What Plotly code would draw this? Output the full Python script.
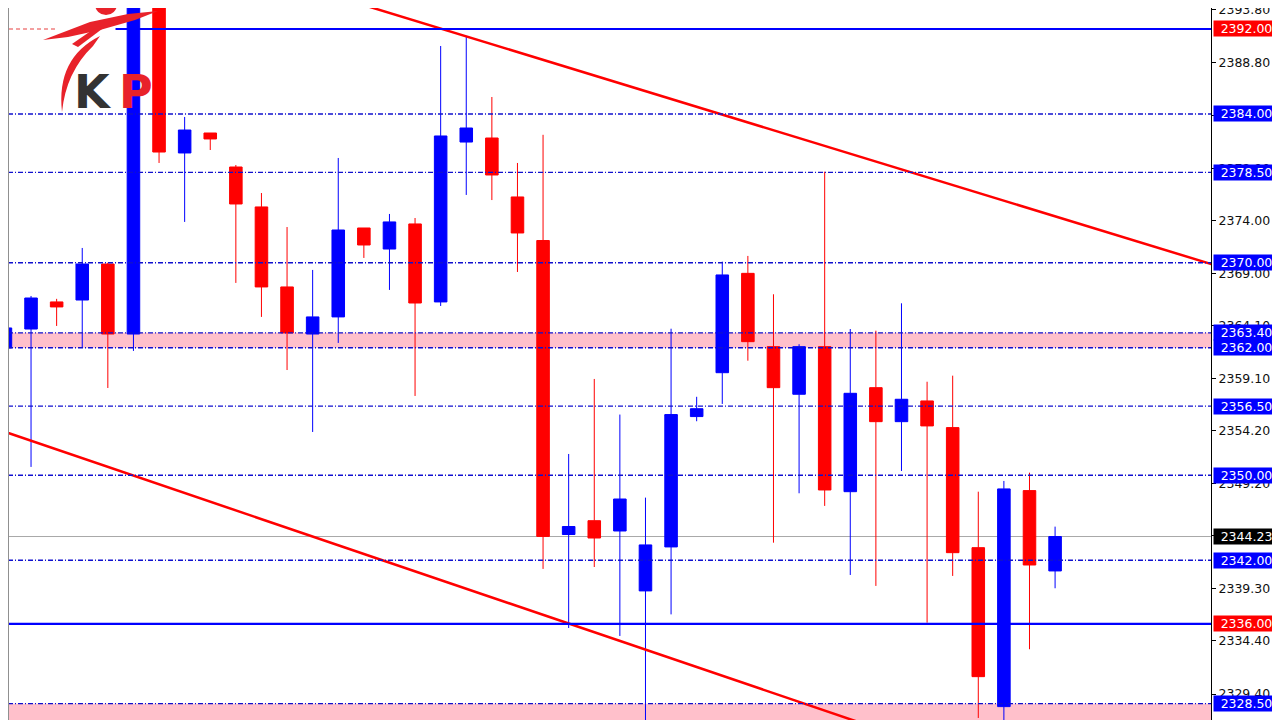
import plotly.graph_objects as go

# ---------------- data ----------------
CANDLE_X = list(range(42))
OPEN = [2361.98, 2363.76, 2366.31, 2366.49, 2369.88, 2363.29, 2396.00, 2380.33, 2382.21, 2379.01,
        2375.25, 2367.72, 2363.29, 2364.90, 2373.27, 2371.29, 2373.65, 2366.31, 2381.36, 2381.74,
        2376.19, 2372.09, 2344.42, 2345.72, 2344.75, 2339.11, 2343.25, 2355.52, 2359.65, 2369.00,
        2362.10, 2357.62, 2362.10, 2348.45, 2358.24, 2355.04, 2356.99, 2354.48, 2343.18, 2328.22,
        2348.55, 2340.99]
HIGH = [2369.04, 2366.87, 2366.60, 2371.39, 2370.00, 2397.00, 2397.00, 2383.72, 2382.21, 2379.20,
        2376.56, 2373.36, 2369.32, 2379.86, 2373.27, 2374.59, 2374.21, 2390.40, 2391.34, 2385.60,
        2379.39, 2382.04, 2352.00, 2359.06, 2355.71, 2347.89, 2363.79, 2357.38, 2370.10, 2370.64,
        2367.03, 2362.33, 2378.57, 2363.76, 2363.60, 2366.18, 2358.80, 2359.37, 2348.45, 2349.46,
        2350.24, 2345.16]
LOW = [2354.54, 2350.78, 2364.05, 2361.98, 2358.21, 2361.70, 2379.39, 2373.84, 2380.61, 2368.10,
       2364.90, 2359.90, 2354.07, 2362.45, 2370.45, 2367.44, 2357.46, 2365.93, 2376.38, 2375.90,
       2369.13, 2341.18, 2335.62, 2341.36, 2334.87, 2326.00, 2336.90, 2355.08, 2356.71, 2360.78,
       2343.65, 2348.30, 2347.11, 2340.61, 2339.58, 2350.40, 2336.12, 2340.52, 2327.15, 2326.00,
       2333.62, 2339.36]
CLOSE = [2363.86, 2366.68, 2365.84, 2369.88, 2363.29, 2396.00, 2380.42, 2382.49, 2381.65, 2375.53,
         2367.72, 2363.39, 2364.90, 2373.08, 2371.67, 2373.84, 2366.21, 2381.93, 2382.68, 2378.26,
         2372.80, 2344.24, 2345.17, 2344.09, 2347.76, 2343.44, 2355.71, 2356.26, 2368.85, 2362.57,
         2358.24, 2362.10, 2348.61, 2357.71, 2355.04, 2357.15, 2354.64, 2342.71, 2331.04, 2348.71,
         2341.55, 2344.23]

DASHED_LEVELS = [2384.00, 2378.50, 2370.00, 2363.40, 2362.00, 2356.50, 2350.00, 2342.00, 2328.50]
SOLID_LEVELS = [2392.00, 2336.00]
SOLID_START_X = [4.3, -0.5]
CURRENT_PRICE = 2344.23
PINK_BAND_LOW = [2362.00, 2326.00]
PINK_BAND_HIGH = [2363.40, 2328.50]

UPPER_TREND_X = [12.0, 48.0]
UPPER_TREND_Y = [2395.72, 2369.21]
LOWER_TREND_X = [-0.5, 35.0]
LOWER_TREND_Y = [2354.47, 2325.39]

TICK_VALS = [2393.80, 2388.80, 2383.90, 2378.90, 2374.00, 2369.00, 2364.10, 2359.10,
             2354.20, 2349.20, 2344.30, 2339.30, 2334.40, 2329.40]
TICK_TEXT = ["%.2f" % v for v in TICK_VALS]

X_RANGE = [0.10, 47.09]
Y_RANGE = [2326.96, 2393.976]

BLUE = "#0000FF"
RED = "#FF0000"

# ---------------- figure geometry ----------------
PAGE_OFF = 8           # default body margin of the html page
W, H = 1272, 712
ML, MR, MT, MB = 0, 69, 0, 0
PW = W - ML - MR
PH = H - MT - MB

fig = go.Figure()

shapes = []
for lo, hi in zip(PINK_BAND_LOW, PINK_BAND_HIGH):
    shapes.append(dict(type="rect", xref="paper", x0=0, x1=1, yref="y", y0=lo, y1=hi,
                       fillcolor="#FFC0CB", line=dict(width=0), layer="below"))
shapes.append(dict(type="line", xref="paper", x0=0, x1=1, yref="y", y0=CURRENT_PRICE, y1=CURRENT_PRICE,
                   line=dict(color="#A8A8A8", width=1), layer="below"))

fig.add_trace(go.Candlestick(
    x=CANDLE_X, open=OPEN, high=HIGH, low=LOW, close=CLOSE,
    increasing=dict(line=dict(color=BLUE, width=1), fillcolor=BLUE),
    decreasing=dict(line=dict(color=RED, width=1), fillcolor=RED),
    whiskerwidth=0, hoverinfo="skip", showlegend=False,
))

fig.add_trace(go.Scatter(x=UPPER_TREND_X, y=UPPER_TREND_Y, mode="lines",
                         line=dict(color=RED, width=2.5), hoverinfo="skip", showlegend=False))
fig.add_trace(go.Scatter(x=LOWER_TREND_X, y=LOWER_TREND_Y, mode="lines",
                         line=dict(color=RED, width=2.5), hoverinfo="skip", showlegend=False))

for lvl in DASHED_LEVELS:
    shapes.append(dict(type="line", xref="paper", x0=0, x1=1, yref="y", y0=lvl, y1=lvl,
                       line=dict(color="#1010D0", width=1.4, dash="5px,2px,1px,2px"), layer="above"))
for lvl, xs in zip(SOLID_LEVELS, SOLID_START_X):
    shapes.append(dict(type="line", xref="x", x0=xs, x1=X_RANGE[1] + 1, yref="y", y0=lvl, y1=lvl,
                       line=dict(color=BLUE, width=2.2), layer="above"))

# left border
shapes.append(dict(type="line", xref="paper", x0=0, x1=0, yref="paper", y0=0, y1=1,
                   line=dict(color="#909090", width=2), layer="above"))


# ---------------- logo (decoration, page pixels -> paper) ----------------
def pp(px, py):
    return (px - PAGE_OFF - ML) / PW, 1 - (py - PAGE_OFF - MT) / PH


def path(cmds):
    out = []
    for c in cmds:
        if isinstance(c, str):
            out.append(c)
        else:
            x, y = pp(*c)
            out.append("%.5f,%.5f" % (x, y))
    return " ".join(out)


LOGO_RED = "#E8222A"
hx0, hy0 = pp(95, -6)
hx1, hy1 = pp(117, 15)
shapes.append(dict(type="circle", xref="paper", yref="paper", x0=hx0, x1=hx1, y0=hy1, y1=hy0,
                   fillcolor=LOGO_RED, line=dict(width=0), layer="above"))
shapes.append(dict(type="path", xref="paper", yref="paper", layer="above",
                   path=path(["M", (43, 40), "L", (90, 22), "L", (128, 14), "L", (158, 11),
                              "L", (135, 20), "L", (100, 30), "L", (68, 37), "Z"]),
                   fillcolor=LOGO_RED, line=dict(width=0)))
shapes.append(dict(type="path", xref="paper", yref="paper", layer="above",
                   path=path(["M", (100, 36), "Q", (56, 58), (62, 112), "Q", (66, 72), (93, 46), "Z"]),
                   fillcolor=LOGO_RED, line=dict(width=0)))
shapes.append(dict(type="path", xref="paper", yref="paper", layer="above",
                   path=path(["M", (72, 44), "L", (98, 26), "L", (102, 29), "L", (78, 47), "Z"]),
                   fillcolor=LOGO_RED, line=dict(width=0)))
dx0, dy = pp(9, 29)
dx1, _ = pp(56, 29)
shapes.append(dict(type="line", xref="paper", yref="paper", x0=dx0, x1=dx1, y0=dy, y1=dy,
                   line=dict(color="#F08080", width=1.5, dash="4px,3px"), layer="above"))

annotations = []
kx, ky = pp(93, 92)
annotations.append(dict(xref="paper", yref="paper", x=kx, y=ky, text="<b>K</b>", showarrow=False,
                        font=dict(family="DejaVu Sans", size=46, color="#333333"),
                        xanchor="center", yanchor="middle"))
px_, py_ = pp(136, 92)
annotations.append(dict(xref="paper", yref="paper", x=px_, y=py_, text="<b>P</b>", showarrow=False,
                        font=dict(family="DejaVu Sans", size=46, color=LOGO_RED),
                        xanchor="center", yanchor="middle"))

# ---------------- price labels ----------------
FONT_FAMILY = "DejaVu Sans, Verdana, sans-serif"
LABEL_FONT = dict(family=FONT_FAMILY, size=12.5, color="white")


def price_label(val, bg):
    return dict(xref="paper", x=1, xanchor="left", xshift=2, yref="y", y=val, yanchor="middle",
                text="%.2f" % val, showarrow=False, bgcolor=bg, width=63, height=13, borderpad=1,
                align="center", font=LABEL_FONT)


for lvl in DASHED_LEVELS:
    annotations.append(price_label(lvl, BLUE))
for lvl in SOLID_LEVELS:
    annotations.append(price_label(lvl, RED))
annotations.append(price_label(CURRENT_PRICE, "#000000"))

fig.update_layout(
    width=W, height=H,
    margin=dict(l=ML, r=MR, t=MT, b=MB, pad=0, autoexpand=False),
    paper_bgcolor="white", plot_bgcolor="white",
    showlegend=False,
    shapes=shapes,
    annotations=annotations,
    xaxis=dict(range=X_RANGE, visible=False, rangeslider=dict(visible=False), fixedrange=True,
               automargin=False),
    yaxis=dict(range=Y_RANGE, side="right", tickvals=TICK_VALS, ticktext=TICK_TEXT,
               ticks="outside", ticklen=4, tickcolor="black", showline=True, linecolor="black",
               linewidth=1, showgrid=False, zeroline=False, fixedrange=True,
               ticklabeloverflow="allow", automargin=False,
               tickfont=dict(family=FONT_FAMILY, size=12.5, color="#111111")),
)

fig.write_html("out.html")
